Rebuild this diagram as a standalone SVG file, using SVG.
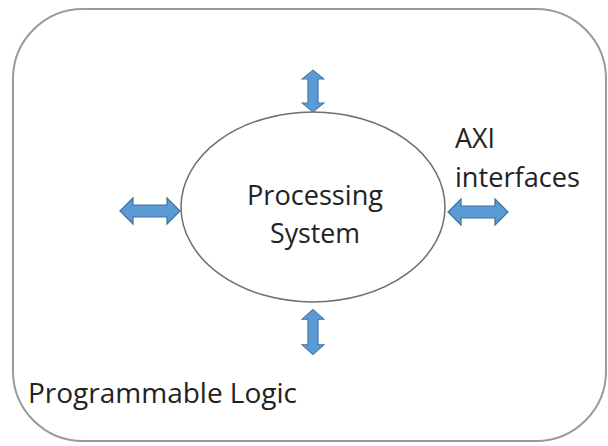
<svg xmlns="http://www.w3.org/2000/svg" width="608" height="446" viewBox="0 0 608 446">
  <style>
    .frame { fill: #ffffff; stroke: #9a9a9a; stroke-width: 2; }
    .ps { fill: #ffffff; stroke: #6e6e6e; stroke-width: 1.5; }
    .arrow { fill: #5b9bd5; stroke: #41719c; stroke-width: 1.2; }
    .label { font-family: "Open Sans", "Liberation Sans", sans-serif; font-size: 27px; fill: #222222; }
  </style>
  <defs>
    <!-- horizontal double-headed block arrow, 60 long, centred on origin -->
    <path id="dbl" d="M-30,0 L-17,-13 L-17,-6 L17,-6 L17,-13 L30,0 L17,13 L17,6 L-17,6 L-17,13 Z"/>
  </defs>

  <g id="programmable-logic">
    <rect class="frame" x="13" y="9" width="593" height="432" rx="70" ry="70"/>
    <text class="label" x="28" y="403" textLength="269" lengthAdjust="spacingAndGlyphs">Programmable Logic</text>
  </g>

  <g id="processing-system">
    <ellipse class="ps" cx="313" cy="207" rx="132" ry="95"/>
    <text class="label" x="247" y="205" textLength="136" lengthAdjust="spacingAndGlyphs">Processing</text>
    <text class="label" x="270" y="243" textLength="90" lengthAdjust="spacingAndGlyphs">System</text>
  </g>

  <g id="axi-label">
    <text class="label" x="455" y="148" textLength="40" lengthAdjust="spacingAndGlyphs">AXI</text>
    <text class="label" x="455" y="187" textLength="125" lengthAdjust="spacingAndGlyphs">interfaces</text>
  </g>

  <g id="connectors">
    <use href="#dbl" class="arrow" transform="translate(313,91) rotate(90) scale(0.7,0.85)"/>
    <use href="#dbl" class="arrow" transform="translate(313,332) rotate(90) scale(0.75,0.85)"/>
    <use href="#dbl" class="arrow" transform="translate(150,211)"/>
    <use href="#dbl" class="arrow" transform="translate(478,212)"/>
  </g>
</svg>
